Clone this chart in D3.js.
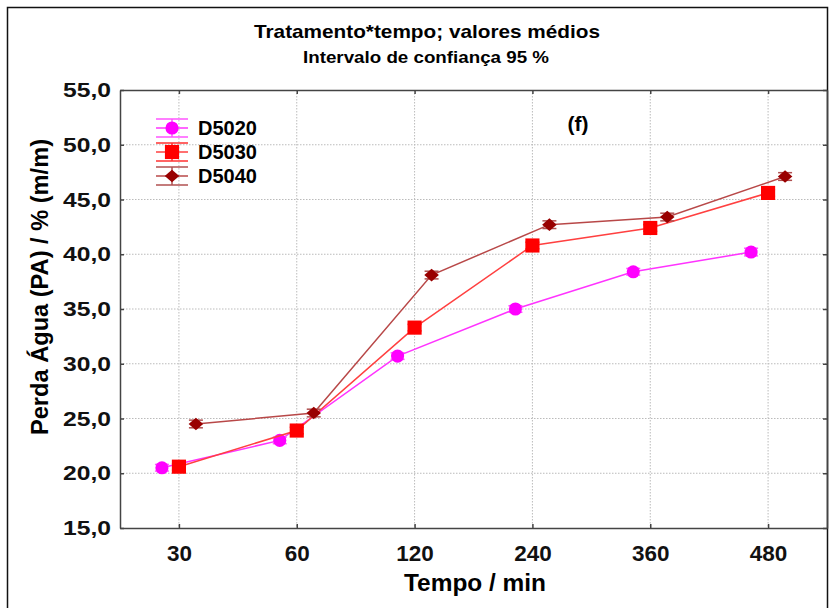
<!DOCTYPE html>
<html>
<head>
<meta charset="utf-8">
<script src="https://d3js.org/d3.v7.min.js"></script>
<style>
  body { margin: 0; background: #fff; }
  text { font-family: Arial, "Liberation Sans", sans-serif; }
</style>
</head>
<body>
<div id="chart"></div>
<script>

// data
var tempos = ["30", "60", "120", "240", "360", "480"];
var yTicks = [15, 20, 25, 30, 35, 40, 45, 50, 55];

var d5020 = [20.5, 23.0, 30.7, 35.0, 38.4, 40.2];
var d5030 = [20.6, 23.9, 33.3, 40.8, 42.4, 45.6];
var d5040 = [24.5, 25.5, 38.1, 42.7, 43.4, 47.1];

var d5020Err = [0.3, 0.3, 0.3, 0.3, 0.3, 0.35];
var d5030Err = [0.3, 0.3, 0.3, 0.3, 0.3, 0.3];
var d5040Err = [0.35, 0.35, 0.35, 0.35, 0.35, 0.35];

var seriesNames = ["D5020", "D5030", "D5040"];

// rotated square for the diamond marker
var diamond = {
  draw: function(ctx, size) {
    var r = Math.sqrt(size) / 2;
    ctx.moveTo(0, -r); ctx.lineTo(r * 1.15, 0); ctx.lineTo(0, r); ctx.lineTo(-r * 1.15, 0); ctx.closePath();
  }
};

// look of each series
var series = [
  { name: seriesNames[0], values: d5020, err: d5020Err, shift: -17, fill: "#ff00ff", line: "#ff33ff", cap: "#ff55ff", sym: d3.symbolCircle, size: 135 },
  { name: seriesNames[1], values: d5030, err: d5030Err, shift: 0,   fill: "#ff0000", line: "#ff4040", cap: "#ff3030", sym: d3.symbolSquare, size: 200 },
  { name: seriesNames[2], values: d5040, err: d5040Err, shift: 17,  fill: "#990000", line: "#b84848", cap: "#b05050", sym: diamond, size: 160 }
];

var W = 829, H = 608;
var margin = {top: 90, right: 2, bottom: 80, left: 120},
    width = W - margin.left - margin.right,
    height = H - margin.top - margin.bottom;

var svg = d3.select("#chart").append("svg")
    .attr("width", W)
    .attr("height", H);

// outer frame
svg.append("path")
  .attr("d", "M7.5," + H + "V7.5H827.5V" + H)
  .attr("fill", "none")
  .attr("stroke", "#111")
  .attr("stroke-width", 1.5);

// titles
svg.append("text")
  .attr("x", 427).attr("y", 38)
  .attr("text-anchor", "middle")
  .attr("textLength", 346).attr("lengthAdjust", "spacingAndGlyphs")
  .style("font-size", "19px").style("font-weight", "bold")
  .text("Tratamento*tempo; valores médios");
svg.append("text")
  .attr("x", 426).attr("y", 63)
  .attr("text-anchor", "middle")
  .attr("textLength", 246).attr("lengthAdjust", "spacingAndGlyphs")
  .style("font-size", "16px").style("font-weight", "bold")
  .text("Intervalo de confiança 95 %");

var g = svg.append("g")
  .attr("transform", "translate(" + margin.left + "," + margin.top + ")");

var x = d3.scalePoint()
  .domain(tempos)
  .range([0, width])
  .padding(0.5);

var y = d3.scaleLinear()
  .domain([15, 55])
  .range([height, 0]);

// grid
g.append("g").selectAll("line")
  .data(yTicks.slice(1, -1))
  .enter().append("line")
    .attr("x1", 0).attr("x2", width)
    .attr("y1", function(d) { return y(d); })
    .attr("y2", function(d) { return y(d); })
    .attr("stroke", "#bbb")
    .attr("stroke-dasharray", "1.5,1.5");
g.append("g").selectAll("line")
  .data(tempos)
  .enter().append("line")
    .attr("x1", function(d) { return x(d); })
    .attr("x2", function(d) { return x(d); })
    .attr("y1", 0).attr("y2", height)
    .attr("stroke", "#bbb")
    .attr("stroke-dasharray", "1.5,1.5");

// axes (ticks inward, mirrored on top and right)
var axisStyle = function(sel) {
  sel.select(".domain").attr("stroke", "#444").attr("stroke-width", 1.5);
  sel.selectAll(".tick line").attr("stroke", "#444").attr("stroke-width", 1.5);
};

var yAxis = g.append("g")
  .call(d3.axisLeft(y).tickValues(yTicks).tickSize(-4).tickSizeOuter(0).tickPadding(9)
    .tickFormat(function(d) { return d3.format(".1f")(d).replace(".", ","); }))
  .call(axisStyle);
yAxis.selectAll(".tick text")
  .attr("textLength", 48).attr("lengthAdjust", "spacingAndGlyphs")
  .style("font-size", "21px").style("font-weight", "bold").attr("fill", "#111");

g.append("g")
  .attr("transform", "translate(" + width + ",0)")
  .call(d3.axisRight(y).tickValues(yTicks).tickSize(-4).tickSizeOuter(0).tickFormat(""))
  .call(axisStyle);

var xAxis = g.append("g")
  .attr("transform", "translate(0," + height + ")")
  .call(d3.axisBottom(x).tickSize(-4).tickSizeOuter(0).tickPadding(17))
  .call(axisStyle);
xAxis.selectAll(".tick text")
  .attr("textLength", function(d) { return d.length * 12.5; })
  .attr("lengthAdjust", "spacingAndGlyphs")
  .style("font-size", "22px").style("font-weight", "bold").attr("fill", "#111");

g.append("g")
  .call(d3.axisTop(x).tickSize(-4).tickSizeOuter(0).tickFormat(""))
  .call(axisStyle);

// axis titles
svg.append("text")
  .attr("x", 475).attr("y", 591)
  .attr("text-anchor", "middle")
  .attr("textLength", 142).attr("lengthAdjust", "spacingAndGlyphs")
  .style("font-size", "23px").style("font-weight", "bold")
  .text("Tempo / min");

svg.append("text")
  .attr("transform", "translate(48,287) rotate(-90)")
  .attr("text-anchor", "middle")
  .attr("textLength", 296).attr("lengthAdjust", "spacingAndGlyphs")
  .style("font-size", "23px").style("font-weight", "bold")
  .text("Perda Água (PA) / % (m/m)");

// series
series.forEach(function(s) {
  var pts = tempos.map(function(t, i) {
    return { t: t, v: s.values[i], e: s.err[i] };
  });
  var px = function(d) { return x(d.t) + s.shift; };

  g.append("path")
    .datum(pts)
    .attr("fill", "none")
    .attr("stroke", s.line)
    .attr("stroke-width", 1.5)
    .attr("d", d3.line().x(px).y(function(d) { return y(d.v); }));

  var eb = g.append("g").selectAll("g")
    .data(pts).enter().append("g");
  eb.append("line")
    .attr("x1", px).attr("x2", px)
    .attr("y1", function(d) { return y(d.v - d.e); })
    .attr("y2", function(d) { return y(d.v + d.e); })
    .attr("stroke", s.cap).attr("stroke-width", 1.5);
  [-1, 1].forEach(function(sg) {
    eb.append("line")
      .attr("x1", function(d) { return px(d) - 7; })
      .attr("x2", function(d) { return px(d) + 7; })
      .attr("y1", function(d) { return y(d.v + sg * d.e); })
      .attr("y2", function(d) { return y(d.v + sg * d.e); })
      .attr("stroke", s.cap).attr("stroke-width", 1.5);
  });

  g.append("g").selectAll("path")
    .data(pts).enter().append("path")
    .attr("d", d3.symbol().type(s.sym).size(s.size))
    .attr("transform", function(d) { return "translate(" + px(d) + "," + y(d.v) + ")"; })
    .attr("fill", s.fill);
});

// legend
var legend = svg.append("g").attr("transform", "translate(172,128)");
series.forEach(function(s, i) {
  var lg = legend.append("g").attr("transform", "translate(0," + (i * 24) + ")");
  lg.append("line").attr("x1", -16).attr("x2", 16).attr("y1", 0).attr("y2", 0)
    .attr("stroke", s.line).attr("stroke-width", 1.5);
  [-9, 9].forEach(function(dy) {
    lg.append("line").attr("x1", -16).attr("x2", 16).attr("y1", dy).attr("y2", dy)
      .attr("stroke", s.cap).attr("stroke-width", 1.5);
  });
  lg.append("line").attr("x1", 0).attr("x2", 0).attr("y1", -9).attr("y2", 9)
    .attr("stroke", s.cap).attr("stroke-width", 1.5);
  lg.append("path")
    .attr("d", d3.symbol().type(s.sym).size(s.size))
    .attr("fill", s.fill);
  lg.append("text")
    .attr("x", 26).attr("y", 7)
    .style("font-size", "20px").style("font-weight", "bold")
    .text(s.name);
});

// panel letter
svg.append("text")
  .attr("x", 578).attr("y", 131)
  .attr("text-anchor", "middle")
  .style("font-size", "21px").style("font-weight", "bold")
  .text("(f)");

</script>
</body>
</html>
